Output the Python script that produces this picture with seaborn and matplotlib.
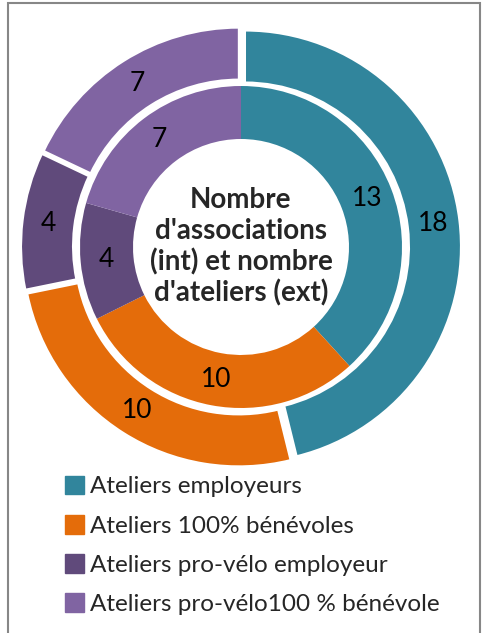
import matplotlib
matplotlib.use("Agg")
import matplotlib.pyplot as plt
import matplotlib.patches as mpatches
import seaborn as sns

# donnees
categories = ["Ateliers employeurs", "Ateliers 100% bénévoles",
              "Ateliers pro-vélo employeur", "Ateliers pro-vélo100 % bénévole"]
associations = [13, 10, 4, 7]   # anneau interieur
ateliers = [18, 10, 4, 7]       # anneau exterieur
center_title = "Nombre\nd'associations\n(int) et nombre\nd'ateliers (ext)"

colors = ["#31859C", "#E46C0A", "#604A7B", "#8064A2"]

sns.set_theme(style="white")
plt.rcParams['font.family'] = ['Lato', 'DejaVu Sans']

fig = plt.figure(figsize=(4.83, 6.33), dpi=100)

# axe en "pixels" : centre du donut a (241, 247)
ax = fig.add_axes([1 / 483, (633 - 247 - 240) / 633, 480 / 483, 480 / 633])

# anneau exterieur (ateliers), parts legerement ecartees
wedges_out, texts_out = ax.pie(
    ateliers, radius=216, colors=colors, startangle=90, counterclock=False,
    explode=[4] * len(ateliers),
    labels=[str(v) for v in ateliers], labeldistance=190 / 216,
    wedgeprops=dict(width=52, edgecolor="white", linewidth=1.5),
    textprops=dict(fontsize=19, color="black", ha="center", va="center"))

# anneau interieur (associations)
wedges_in, texts_in = ax.pie(
    associations, radius=161, colors=colors, startangle=90, counterclock=False,
    labels=[str(v) for v in associations], labeldistance=135 / 161,
    wedgeprops=dict(width=53, edgecolor=None, linewidth=0),
    textprops=dict(fontsize=19, color="black", ha="center", va="center"))

ax.set_xlim(-240, 240)
ax.set_ylim(-240, 240)
ax.set_aspect("equal")
ax.axis("off")

ax.text(0, 0, center_title, ha="center", va="center", fontsize=20,
        fontweight="bold", linespacing=1.2)

# legende
handles = [mpatches.Patch(color=c, label=l) for c, l in zip(colors, categories)]
fig.legend(handles=handles, loc="upper left", bbox_to_anchor=(55 / 483, 1 - 466 / 633),
           frameon=False, fontsize=17.5, handlelength=0.8, handleheight=0.8,
           handletextpad=0.25, labelspacing=0.72, borderaxespad=0)

# cadre gris
fig.patches.append(mpatches.Rectangle((8 / 483, -0.01), 472 / 483, 1.01 - 3 / 633,
                                      transform=fig.transFigure, fill=False,
                                      edgecolor="#878787", linewidth=1.5))

fig.savefig("out.png", dpi=100)
